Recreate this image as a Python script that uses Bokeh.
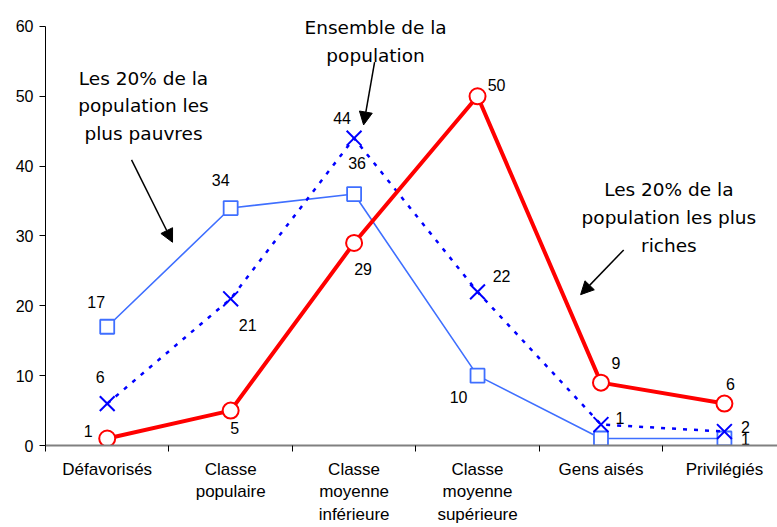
from bokeh.plotting import figure
from bokeh.models import FixedTicker, Arrow, NormalHead
from bokeh.core.properties import value
from bokeh.embed import file_html
from bokeh.resources import INLINE

categories = ["Défavorisés", "Classe\npopulaire", "Classe\nmoyenne\ninférieure",
              "Classe\nmoyenne\nsupérieure", "Gens aisés", "Privilégiés"]
pauvres = [17, 34, 36, 10, 1, 1]
ensemble = [6, 21, 44, 22, 3, 2]
riches = [1, 5, 29, 50, 9, 6]

pauvres_labels = ["17", "34", "36", "10", "1", "1"]
ensemble_labels = ["6", "21", "44", "22", "", "2"]
riches_labels = ["1", "5", "29", "50", "9", "6"]

y_ticks = [0, 10, 20, 30, 40, 50, 60]

# label offsets in screen pixels (dx, dy down)
pauvres_off = [(-11, -25), (-10, -28), (3, -31), (-19, 21), (19, -21), (21, 0)]
ensemble_off = [(-7, -27), (17, 26), (-12, -20), (24, -16), (0, 0), (21, -5)]
riches_off = [(-19, -8), (4, 17), (9, 26), (19, -11), (15, -20), (6, -20)]

xs = [i + 0.5 for i in range(len(categories))]

p = figure(width=777, height=527, x_range=(0, 5.93), y_range=(0, 63),
           output_backend="svg", toolbar_location=None,
           min_border_left=45, min_border_top=5, min_border_bottom=81, min_border_right=0)
p.outline_line_color = None
p.xgrid.visible = False
p.ygrid.visible = False

# axes
p.xaxis.ticker = FixedTicker(ticks=xs, minor_ticks=list(range(0, 7)))
p.xaxis.major_label_overrides = {x: c for x, c in zip(xs, categories)}
p.xaxis.major_tick_out = 0
p.xaxis.major_tick_in = 0
p.xaxis.minor_tick_out = 6
p.xaxis.minor_tick_in = 0
p.xaxis.minor_tick_line_color = "black"
p.xaxis.axis_line_color = "#808080"
p.xaxis.axis_line_width = 2
p.xaxis.major_label_standoff = 8
p.xaxis.major_label_text_font = "Liberation Sans"
p.xaxis.major_label_text_font_size = "17px"
p.xaxis.major_label_text_line_height = 1.2
p.xaxis.major_label_text_color = "black"

p.yaxis.ticker = FixedTicker(ticks=y_ticks)
p.yaxis.bounds = (0, 60)
p.yaxis.minor_tick_line_color = None
p.yaxis.major_tick_out = 6
p.yaxis.major_tick_in = 0
p.yaxis.axis_line_color = "black"
p.yaxis.major_label_standoff = 6
p.yaxis.major_label_text_font = "Liberation Sans"
p.yaxis.major_label_text_font_size = "16px"
p.yaxis.major_label_text_color = "black"

# series
p.line(xs, pauvres, line_color="#3F6FFF", line_width=1.6)
p.scatter(xs, pauvres, marker="square", size=14, fill_color="white",
          line_color="#3F6FFF", line_width=1.8)

p.line(xs, ensemble, line_color="#0000FF", line_width=2.5, line_dash="4 7")
p.scatter(xs, ensemble, marker="x", size=21, line_color="#0000FF", line_width=2)

p.line(xs, riches, line_color="#FF0000", line_width=4)
p.scatter(xs, riches, marker="circle", size=16, fill_color="white",
          line_color="#FF0000", line_width=2)

def add_labels(vals, labels, offs):
    for x, v, t, (dx, dy) in zip(xs, vals, labels, offs):
        if t:
            p.text([x], [v], text=[t], x_offset=dx, y_offset=dy,
                   text_align="center", text_baseline="middle",
                   text_font=value("Liberation Sans"), text_font_size="16px",
                   text_color="black")

add_labels(pauvres, pauvres_labels, pauvres_off)
add_labels(ensemble, ensemble_labels, ensemble_off)
add_labels(riches, riches_labels, riches_off)

# annotations
notes = [
    (0.794, [52.6, 48.7, 44.7], ["Les 20% de la", "population les", "plus pauvres"]),
    (2.674, [59.9, 55.9], ["Ensemble de la", "population"]),
    (5.05, [36.6, 32.7, 28.7], ["Les 20% de la", "population les plus", "riches"]),
]
for nx, nys, lines in notes:
    for ny, t in zip(nys, lines):
        p.text([nx], [ny], text=[t], text_align="center", text_baseline="middle",
               text_font=value("DejaVu Sans"), text_font_size="18.5px", text_color="black")

arrows = [
    (0.697, 40.9, 1.029, 29.1),
    (2.666, 54.9, 2.577, 45.9),
    (4.684, 28.0, 4.335, 21.6),
]
for x0, y0, x1, y1 in arrows:
    p.add_layout(Arrow(x_start=x0, y_start=y0, x_end=x1, y_end=y1,
                       line_color="black", line_width=1.5,
                       end=NormalHead(size=13, fill_color="black", line_color="black")))

open("out.html", "w").write(file_html(p, INLINE))
